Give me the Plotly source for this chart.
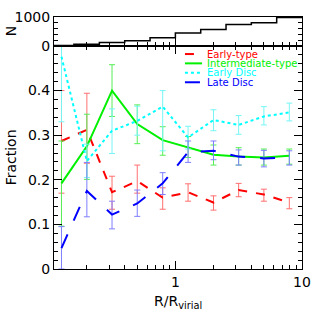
import plotly.graph_objects as go

# ---- data ----
r_vals = [0.126, 0.2, 0.316, 0.5, 0.794, 1.26, 2.0, 3.16, 5.0, 7.94]

early_type = [0.287, 0.312, 0.172, 0.197, 0.160, 0.172, 0.149, 0.177, 0.167, 0.149]
early_type_hi = [0.400, 0.394, 0.208, 0.233, 0.182, 0.191, 0.164, 0.192, 0.179, 0.160]
early_type_lo = [0.170, 0.237, 0.134, 0.170, 0.134, 0.152, 0.132, 0.162, 0.152, 0.135]

intermediate = [0.192, 0.275, 0.400, 0.325, 0.289, 0.272, 0.256, 0.252, 0.250, 0.254]
intermediate_hi = [0.287, 0.347, 0.458, 0.368, 0.319, 0.297, 0.278, 0.272, 0.269, 0.269]
intermediate_lo = [0.096, 0.201, 0.342, 0.281, 0.255, 0.250, 0.233, 0.233, 0.233, 0.235]

early_disc = [0.476, 0.242, 0.310, 0.332, 0.364, 0.295, 0.334, 0.323, 0.342, 0.351]
early_disc_hi = [0.580, 0.280, 0.359, 0.365, 0.400, 0.320, 0.357, 0.344, 0.364, 0.372]
early_disc_lo = [0.330, 0.205, 0.259, 0.300, 0.265, 0.269, 0.310, 0.302, 0.323, 0.332]

late_disc = [0.047, 0.175, 0.122, 0.147, 0.192, 0.262, 0.265, 0.252, 0.248, 0.250]
late_disc_hi = [0.095, 0.239, 0.152, 0.177, 0.216, 0.287, 0.287, 0.267, 0.266, 0.265]
late_disc_lo = [0.000, 0.117, 0.090, 0.118, 0.167, 0.239, 0.245, 0.233, 0.229, 0.233]

bin_edges = [0.1, 0.158, 0.251, 0.398, 0.631, 1.0, 1.585, 2.512, 3.981, 6.31, 10.0]
counts = [20, 60, 117, 177, 283, 449, 565, 742, 802, 979]

series = [
    ("Early-type", early_type, early_type_hi, early_type_lo, "#ff0000", "#ff6f6f", "dash", 2),
    ("Intermediate-type", intermediate, intermediate_hi, intermediate_lo, "#00f000", "#55ee55", "solid", 2),
    ("Early Disc", early_disc, early_disc_hi, early_disc_lo, "#00ffff", "#77f5f5", "dot", 2),
    ("Late Disc", late_disc, late_disc_hi, late_disc_lo, "#0000ff", "#7f7fff", "longdash", 2),
]

FONT = "DejaVu Sans"
fig = go.Figure()

for name, v, hi, lo, col, ecol, dash, w in series:
    fig.add_trace(go.Scatter(
        x=r_vals, y=v, mode="lines", name=name,
        line=dict(color=col, dash=dash, width=w),
        error_y=dict(type="data", symmetric=False,
                     array=[h - a for h, a in zip(hi, v)],
                     arrayminus=[a - l for a, l in zip(v, lo)],
                     color=ecol, thickness=1, width=3),
        xaxis="x", yaxis="y", showlegend=False))

# histogram of N (steps)
fig.add_trace(go.Scatter(
    x=bin_edges, y=counts + [counts[-1]], mode="lines", line_shape="hv",
    line=dict(color="black", width=1.5), xaxis="x2", yaxis="y2", showlegend=False))

xr = [-0.9586, 1.0]
minor_x = [0.2, 0.3, 0.4, 0.5, 0.6, 0.7, 0.8, 0.9, 2, 3, 4, 5, 6, 7, 8, 9]
main_dom = [0.0, 0.885]

common = dict(showgrid=False, zeroline=False, automargin=False, tickcolor="black",
              showline=True, linecolor="black", linewidth=1)

fig.update_layout(
    width=319, height=319,
    margin=dict(l=54, r=17, t=17, b=50, autoexpand=False),
    paper_bgcolor="white", plot_bgcolor="white",
    font=dict(family=FONT, size=14, color="black"),
    xaxis=dict(type="log", range=xr, domain=[0, 1], anchor="y",
               tickvals=[1, 10], ticktext=["1", "10"], ticks="inside", ticklen=8,
               mirror="ticks",
               minor=dict(tickvals=minor_x, ticks="inside", ticklen=4, tickcolor="black", showgrid=False),
               **common),
    yaxis=dict(range=[0, 0.5], domain=main_dom, anchor="x",
               tickvals=[0, 0.1, 0.2, 0.3, 0.4], ticktext=["0", "0.1", "0.2", "0.3", "0.4"],
               ticks="inside", ticklen=8, mirror="ticks",
               minor=dict(dtick=0.02, tick0=0, ticks="inside", ticklen=4, tickcolor="black", showgrid=False),
               **common),
    xaxis2=dict(type="log", range=xr, domain=[0, 1], anchor="y2", matches="x",
                tickvals=[1, 10], showticklabels=False, ticks="inside", ticklen=8,
                mirror=True,
                minor=dict(tickvals=minor_x, ticks="inside", ticklen=4, tickcolor="black", showgrid=False),
                **common),
    yaxis2=dict(range=[0, 1000], domain=[main_dom[1], 1.0], anchor="x2",
                tickvals=[0, 1000], ticktext=["0", "1000"], ticks="inside", ticklen=6,
                mirror="ticks",
                minor=dict(dtick=200, tick0=0, ticks="inside", ticklen=4, tickcolor="black", showgrid=False),
                **common),
    showlegend=False,
)

# axis titles
fig.add_annotation(text="R/R<sub>virial</sub>", xref="paper", yref="paper",
                   x=0.5, y=-0.13, xanchor="center", yanchor="middle",
                   showarrow=False, font=dict(family=FONT, size=14))
fig.add_annotation(text="Fraction", xref="paper", yref="paper",
                   x=-0.17, y=main_dom[1] / 2, xanchor="center", yanchor="middle",
                   textangle=-90, showarrow=False, font=dict(family=FONT, size=14))
fig.add_annotation(text="N", xref="paper", yref="paper",
                   x=-0.17, y=(main_dom[1] + 1) / 2, xanchor="center", yanchor="middle",
                   textangle=-90, showarrow=False, font=dict(family=FONT, size=14))

# manual compact legend
leg_y = [0.853, 0.816, 0.779, 0.741]
for (name, v, hi, lo, col, ecol, dash, w), yy in zip(series, leg_y):
    fig.add_shape(type="line", xref="paper", yref="paper",
                  x0=0.528, x1=0.597, y0=yy, y1=yy,
                  line=dict(color=col, dash=dash, width=2))
    fig.add_annotation(text=name, xref="paper", yref="paper", x=0.609, y=yy,
                       xanchor="left", yanchor="middle", showarrow=False,
                       font=dict(family=FONT, size=10, color=col))

fig.write_html("out.html", config={"displayModeBar": False},
               post_script="document.body.style.margin='0';")
